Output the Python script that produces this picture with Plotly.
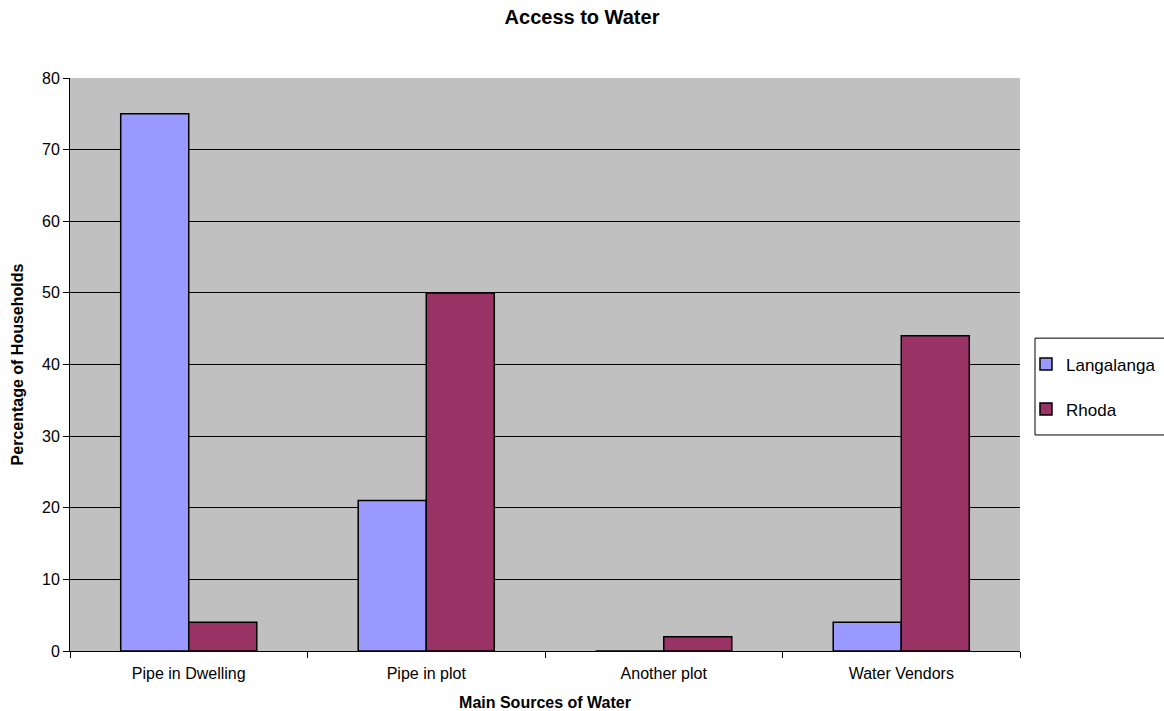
import plotly.graph_objects as go

categories = ["Pipe in Dwelling", "Pipe in plot", "Another plot", "Water Vendors"]
langalanga = [75, 21, 0, 4]
rhoda = [4, 50, 2, 44]
y_ticks = [0, 10, 20, 30, 40, 50, 60, 70, 80]

font_family = "Liberation Sans, Arial, sans-serif"

fig = go.Figure()
fig.add_trace(go.Bar(
    name="Langalanga", x=categories, y=langalanga,
    marker=dict(color="#9999FF", line=dict(color="black", width=1.5)),
    legendgroup="a",
))
fig.add_trace(go.Bar(
    name="Rhoda", x=categories, y=rhoda,
    marker=dict(color="#993366", line=dict(color="black", width=1.5)),
    legendgroup="b",
))

# Framed box behind the legend entries
fig.add_shape(
    type="rect", xref="paper", yref="paper",
    x0=1.0158, x1=1.2, y0=0.377, y1=0.546,
    line=dict(color="black", width=1), fillcolor="white", layer="below",
)

fig.update_layout(
    width=1164, height=711,
    margin=dict(l=70, r=144, t=78, b=60, autoexpand=False),
    paper_bgcolor="white",
    plot_bgcolor="#C0C0C0",
    barmode="group",
    bargap=0.427,
    bargroupgap=0,
    font=dict(family=font_family, size=16, color="black"),
    title=dict(text="<b>Access to Water</b>", x=0.5, xanchor="center",
               y=0.976, yanchor="middle", font=dict(size=20)),
    legend=dict(
        x=1.0063, xanchor="left", y=0.461, yanchor="middle",
        borderwidth=0, bgcolor="rgba(0,0,0,0)",
        font=dict(size=17), tracegroupgap=20, traceorder="grouped",
        itemwidth=30,
    ),
    xaxis=dict(
        title=dict(text="<b>Main Sources of Water</b>", standoff=16, font=dict(size=16)),
        showline=True, linecolor="black", linewidth=1,
        ticks="outside", tickson="boundaries", ticklen=6, tickcolor="black",
        ticklabelstandoff=8,
        showgrid=False, range=[-0.5, 3.5],
    ),
    yaxis=dict(
        title=dict(text="<b>Percentage of Households</b>", standoff=14, font=dict(size=16)),
        range=[0, 80], tickvals=y_ticks,
        showline=True, linecolor="black", linewidth=1,
        ticks="outside", ticklen=6, tickcolor="black",
        showgrid=True, gridcolor="black", gridwidth=1,
        zeroline=False,
    ),
)

fig.write_html("out.html")
